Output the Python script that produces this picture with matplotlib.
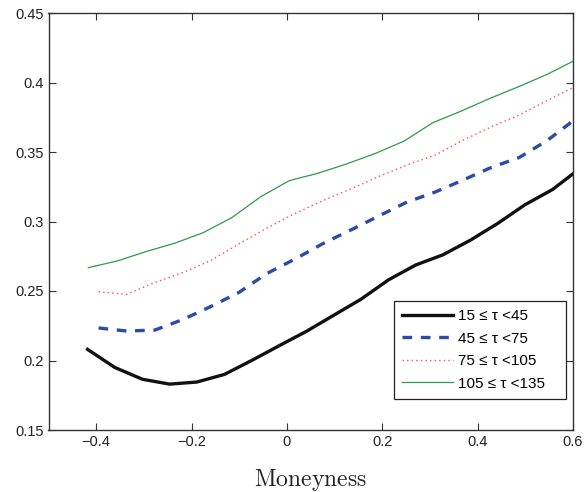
import numpy as np
import matplotlib
matplotlib.use("Agg")
import matplotlib.pyplot as plt

plt.rcParams['font.family'] = ['Liberation Sans', 'DejaVu Sans']
plt.rcParams['mathtext.fontset'] = 'cm'

# moneyness grids
x_short = [-0.418, -0.361, -0.303, -0.246, -0.189, -0.131, -0.074, -0.017, 0.041,
           0.098, 0.155, 0.213, 0.270, 0.327, 0.385, 0.442, 0.499, 0.557, 0.614]
x_mid = [-0.395, -0.336, -0.277, -0.218, -0.160, -0.101, -0.042, 0.017, 0.076,
         0.134, 0.193, 0.252, 0.311, 0.370, 0.428, 0.487, 0.546, 0.605]
x_long = [-0.4165, -0.356, -0.296, -0.236, -0.176, -0.116, -0.055, 0.005, 0.065,
          0.125, 0.185, 0.246, 0.306, 0.366, 0.426, 0.486, 0.546, 0.607]

# implied volatility per maturity bucket
iv_15_45 = [0.208, 0.195, 0.1865, 0.183, 0.1845, 0.190, 0.200, 0.2105, 0.221,
            0.2325, 0.244, 0.258, 0.2687, 0.276, 0.2866, 0.2986, 0.312, 0.323, 0.338]
iv_45_75 = [0.2234, 0.2212, 0.2219, 0.2295, 0.2388, 0.2489, 0.2626, 0.2730, 0.2842,
            0.2939, 0.3040, 0.3140, 0.3212, 0.3299, 0.3388, 0.3460, 0.3583, 0.3737]
iv_75_105 = [0.2495, 0.2476, 0.2561, 0.2633, 0.2719, 0.2838, 0.2953, 0.3058, 0.3151,
             0.3234, 0.3324, 0.3406, 0.3478, 0.3586, 0.3680, 0.3766, 0.3871, 0.3971]
iv_105_135 = [0.2668, 0.2716, 0.2783, 0.2843, 0.2919, 0.3027, 0.3178, 0.3294, 0.3347,
              0.3414, 0.3489, 0.3579, 0.3711, 0.3795, 0.3886, 0.3970, 0.4059, 0.4165]

labels = ['15 \u2264 \u03c4 <45', '45 \u2264 \u03c4 <75', '75 \u2264 \u03c4 <105', '105 \u2264 \u03c4 <135']

fig = plt.figure(figsize=(5.84, 4.92), dpi=100)
ax = fig.add_axes([48.5 / 584, 1 - 430 / 492, 524.5 / 584, 417 / 492])

ax.plot(x_short, iv_15_45, color='#111111', lw=2.4, label=labels[0])
ax.plot(x_mid, iv_45_75, color='#2c4ba8', lw=2.4, dashes=(2.9, 2.6), label=labels[1])
ax.plot(x_mid, iv_75_105, color='#ff4d4d', lw=1.0, dashes=(1, 2.3), label=labels[2])
ax.plot(x_long, iv_105_135, color='#2e9a4a', lw=0.9, label=labels[3])

ax.set_xlim(-0.5, 0.6)
ax.set_ylim(0.15, 0.45)
ax.set_xticks([-0.4, -0.2, 0, 0.2, 0.4, 0.6])
ax.set_xticklabels(['\u22120.4', '\u22120.2', '0', '0.2', '0.4', '0.6'])
ax.set_yticks([0.15, 0.2, 0.25, 0.3, 0.35, 0.4, 0.45])
ax.set_yticklabels(['0.15', '0.2', '0.25', '0.3', '0.35', '0.4', '0.45'])
ax.tick_params(direction='in', top=True, right=True, labelsize=10.5, length=5,
               width=0.8, colors='#333333', labelcolor='#222222')
for s in ax.spines.values():
    s.set_linewidth(1.0)
    s.set_color('#333333')

ax.set_xlabel(r'$\mathrm{Moneyness}$', fontsize=17, labelpad=13, color='#222222')

leg = ax.legend(loc='lower right', bbox_to_anchor=(0.987, 0.074), borderaxespad=0,
                fontsize=11, handlelength=3.3, labelspacing=0.56, handletextpad=0.35,
                fancybox=False, framealpha=1, edgecolor='#222222', borderpad=0.55)
leg.get_frame().set_linewidth(0.9)
# trailing spaces give the box the extra room on the right like the original
for t in leg.get_texts():
    t.set_text(t.get_text() + '   ')

fig.savefig('out.png', dpi=100)
